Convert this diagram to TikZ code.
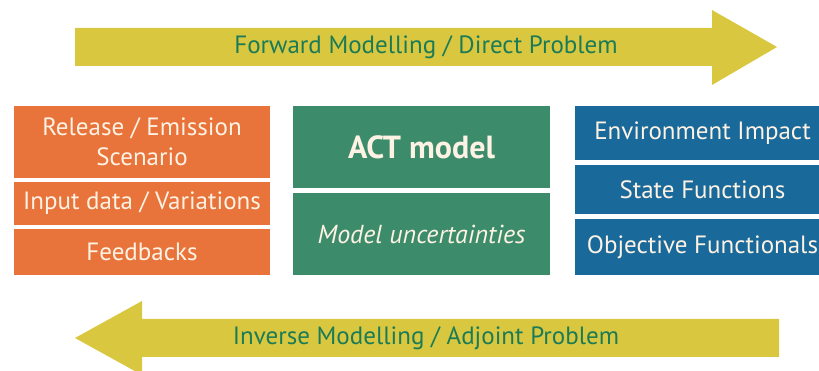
\documentclass[tikz,border=0pt]{standalone}
\usepackage{fontspec}
\setmainfont{PT Sans}
\usepackage{tikz}
\usetikzlibrary{positioning}
\definecolor{arrowyellow}{HTML}{D9C83F}
\definecolor{arrowtext}{HTML}{1C7B57}
\definecolor{inorange}{HTML}{E8743B}
\definecolor{actgreen}{HTML}{3C8C6B}
\definecolor{outblue}{HTML}{19699A}
\definecolor{boxtext}{HTML}{FDF2E4}
\tikzset{
    block/.style={
           rectangle,
           inner sep=0pt, outer sep=0pt,
           text=boxtext,
           align=center,
           font=\fontsize{25}{30}\selectfont,
           },
    inbox/.style={block, fill=inorange, minimum width=256pt},
    actbox/.style={block, fill=actgreen, minimum width=257pt, minimum height=82pt},
    outbox/.style={block, fill=outblue, minimum width=255pt},
    bigarrow/.style={fill=arrowyellow},
    arrowlabel/.style={text=arrowtext, font=\fontsize{25}{30}\selectfont},
}

\begin{document}
\begin{tikzpicture}[x=1pt,y=1pt]
        \useasboundingbox (0,0) rectangle (819,371);
        \fill[white] (0,0) rectangle (819,371);

        % FORWARD ARROW (top, pointing right)
        \fill[bigarrow] (75,305) -- (75,343) -- (712,343) -- (712,361)
            -- (777,324) -- (712,286) -- (712,305) -- cycle;
        \node[arrowlabel] (FWD_LABEL) at (426,324) {Forward Modelling / Direct Problem};

        % INVERSE ARROW (bottom, pointing left)
        \fill[bigarrow] (779,52) -- (142,52) -- (142,70)
            -- (75,33) -- (142,-4) -- (142,14) -- (779,14) -- cycle;
        \node[arrowlabel] (INV_LABEL) at (426,33) {Inverse Modelling / Adjoint Problem};

        % INPUT COLUMN (orange)
        \node[inbox,
            minimum height=72pt,
            anchor=north west] (IN_RELEASE) at (14,265)
        {Release / Emission\\Scenario};
        \node[inbox,
            minimum height=43pt,
            below=4pt of IN_RELEASE] (IN_INPUT)
        {Input data / Variations};
        \node[inbox,
            minimum height=46pt,
            below=4pt of IN_INPUT] (IN_FEEDBACK)
        {Feedbacks};

        % MODEL COLUMN (green)
        \node[actbox,
            anchor=north west,
            font=\bfseries\fontsize{32}{36}\selectfont] (ACT_MODEL) at (293,265)
        {ACT model};
        \node[actbox,
            below=5pt of ACT_MODEL,
            font=\itshape\fontsize{26}{30}\selectfont] (ACT_UNCERT)
        {Model uncertainties};

        % OUTPUT COLUMN (blue)
        \node[outbox,
            minimum height=54pt,
            anchor=north west] (OUT_IMPACT) at (575,265)
        {Environment Impact};
        \node[outbox,
            minimum height=49pt,
            below=5pt of OUT_IMPACT] (OUT_STATE)
        {State Functions};
        \node[outbox,
            minimum height=56pt,
            below=5pt of OUT_STATE] (OUT_OBJECTIVE)
        {Objective Functionals};
\end{tikzpicture}
\end{document}
